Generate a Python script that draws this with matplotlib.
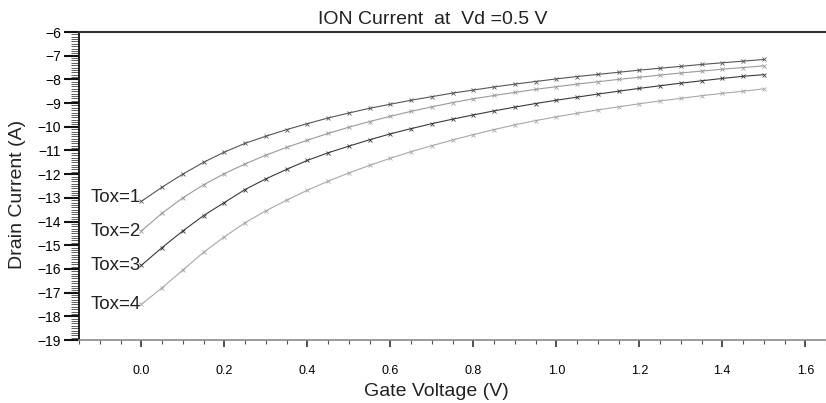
import numpy as np
import matplotlib
matplotlib.use("Agg")
import matplotlib.pyplot as plt
from matplotlib.ticker import MultipleLocator, FormatStrFormatter

plt.rcParams['font.family'] = ['Liberation Sans', 'DejaVu Sans']

# gate voltage sweep (V)
vg = [0.00, 0.05, 0.10, 0.15, 0.20, 0.25, 0.30, 0.35, 0.40, 0.45,
      0.50, 0.55, 0.60, 0.65, 0.70, 0.75, 0.80, 0.85, 0.90, 0.95,
      1.00, 1.05, 1.10, 1.15, 1.20, 1.25, 1.30, 1.35, 1.40, 1.45, 1.50]

# log10 drain current for each oxide thickness
id_tox1 = [-13.15, -12.55, -12.00, -11.50, -11.07, -10.70, -10.40, -10.12, -9.87, -9.63,
           -9.42, -9.22, -9.05, -8.88, -8.73, -8.58, -8.45, -8.32, -8.20, -8.09,
           -7.98, -7.88, -7.79, -7.70, -7.61, -7.53, -7.45, -7.37, -7.30, -7.23, -7.16]
id_tox2 = [-14.40, -13.65, -13.00, -12.45, -11.98, -11.57, -11.20, -10.87, -10.57, -10.28,
           -10.02, -9.78, -9.56, -9.35, -9.16, -8.98, -8.82, -8.68, -8.55, -8.42,
           -8.31, -8.20, -8.10, -8.00, -7.91, -7.82, -7.73, -7.65, -7.57, -7.50, -7.43]
id_tox3 = [-15.85, -15.10, -14.40, -13.75, -13.20, -12.65, -12.20, -11.80, -11.42, -11.10,
           -10.82, -10.55, -10.30, -10.08, -9.87, -9.68, -9.50, -9.33, -9.17, -9.02,
           -8.88, -8.75, -8.62, -8.50, -8.38, -8.27, -8.16, -8.06, -7.96, -7.87, -7.80]
id_tox4 = [-17.50, -16.80, -16.05, -15.30, -14.65, -14.05, -13.55, -13.10, -12.68, -12.30,
           -11.95, -11.63, -11.33, -11.05, -10.80, -10.56, -10.33, -10.12, -9.92, -9.74,
           -9.58, -9.43, -9.29, -9.16, -9.03, -8.91, -8.80, -8.69, -8.59, -8.50, -8.40]

labels = ["Tox=1", "Tox=2", "Tox=3", "Tox=4"]
series = [id_tox1, id_tox2, id_tox3, id_tox4]
colors = ["#555555", "#9a9a9a", "#3a3a3a", "#a8a8a8"]
label_dy = [3, 0, 0, 0]

fig = plt.figure(figsize=(8.26, 4.03), dpi=100)
ax = fig.add_axes([79 / 826, 63 / 403, 747 / 826, 308 / 403])

for lab, ys, c, dy in zip(labels, series, colors, label_dy):
    ax.plot(vg, ys, color=c, lw=0.8, marker='x', ms=3.5, mew=0.6)
    ax.annotate(lab, xy=(vg[0], ys[0]), xytext=(0, dy), textcoords='offset points',
                ha='right', va='center', fontsize=13.5, color='#222222')

ax.set_xlim(-0.15, 1.65)
ax.set_ylim(-19, -6)

ax.xaxis.set_major_locator(MultipleLocator(0.2))
ax.xaxis.set_minor_locator(MultipleLocator(0.05))
ax.xaxis.set_major_formatter(FormatStrFormatter('%.1f'))
ax.yaxis.set_major_locator(MultipleLocator(1))
ax.yaxis.set_minor_locator(MultipleLocator(0.1))

ax.tick_params(axis='x', which='major', direction='out', length=5, width=1.2,
               color='#333333', labelsize=9, pad=13)
ax.tick_params(axis='x', which='minor', direction='out', length=3, width=0.8,
               color='#555555')
ax.tick_params(axis='y', which='major', direction='out', length=11, width=1.5,
               color='#111111', labelsize=10, pad=2)
ax.tick_params(axis='y', which='minor', direction='out', length=6, width=0.6,
               color='#444444')

ax.spines['right'].set_visible(False)
ax.spines['top'].set_color('#333333')
ax.spines['top'].set_linewidth(1.5)
ax.spines['left'].set_color('#111111')
ax.spines['left'].set_linewidth(1.3)
ax.spines['bottom'].set_color('#8a8a8a')
ax.spines['bottom'].set_linewidth(1.2)

fig.text(433 / 826, 1 - 20 / 403, "ION Current  at  Vd =0.5 V",
         ha='center', va='center', fontsize=14, color='#222222')
fig.text(436 / 826, 1 - 391 / 403, "Gate Voltage (V)",
         ha='center', va='center', fontsize=14, color='#222222')
fig.text(18 / 826, 1 - 194 / 403, "Drain Current (A)", rotation=90,
         ha='center', va='center', fontsize=14, color='#222222')

fig.savefig("out.png", dpi=100)
